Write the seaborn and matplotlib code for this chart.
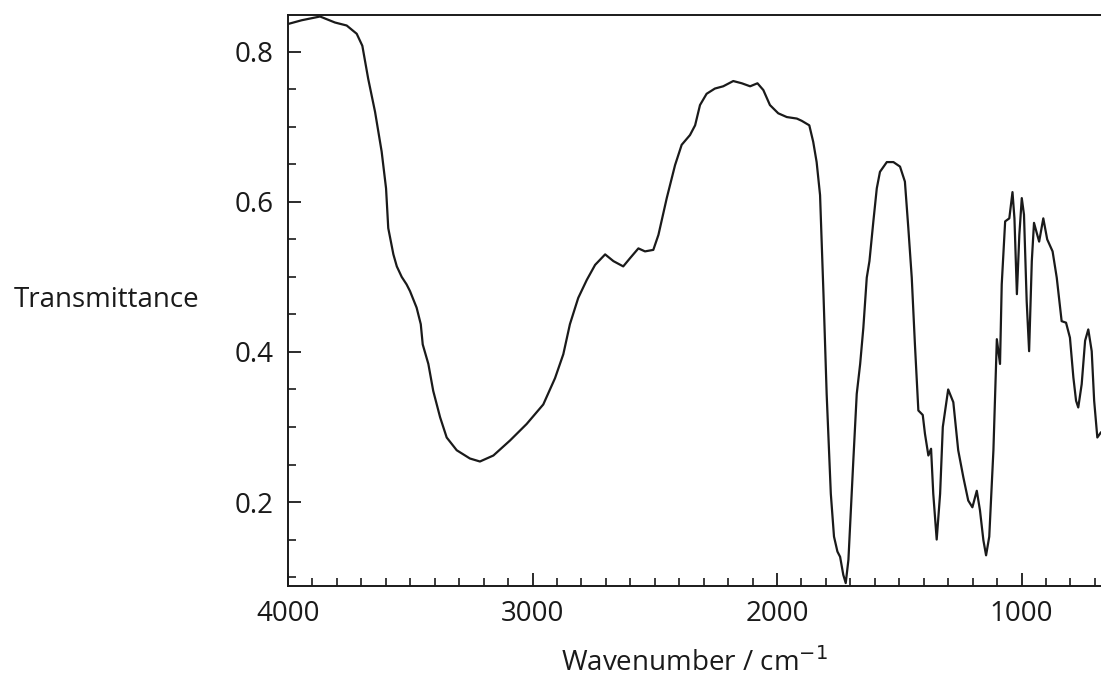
import numpy as np
import pandas as pd
import matplotlib
matplotlib.use("Agg")
import matplotlib.pyplot as plt
from matplotlib.ticker import MultipleLocator
import seaborn as sns

# IR spectrum values (wavenumber in cm^-1, transmittance)
wavenumber = [
    4000, 3944, 3869, 3808, 3760, 3719, 3696, 3672, 3644, 3617,
    3599, 3590, 3569, 3555, 3535, 3515, 3501, 3474, 3457, 3449,
    3426, 3406, 3378, 3351, 3310, 3256, 3215, 3160, 3092, 3024,
    2956, 2908, 2874, 2847, 2813, 2778, 2744, 2703, 2669, 2629,
    2601, 2567, 2540, 2506, 2485, 2451, 2417, 2390, 2356, 2335,
    2315, 2288, 2254, 2220, 2179, 2144, 2110, 2080, 2056, 2029,
    1995, 1960, 1919, 1899, 1868, 1852, 1838, 1824, 1810, 1797,
    1780, 1767, 1753, 1742, 1729, 1719, 1708, 1688, 1674, 1660,
    1647, 1633, 1622, 1606, 1592, 1579, 1551, 1524, 1497, 1477,
    1463, 1449, 1436, 1422, 1404, 1395, 1381, 1370, 1361, 1347,
    1333, 1322, 1300, 1279, 1259, 1238, 1218, 1201, 1183, 1170,
    1156, 1145, 1132, 1115, 1101, 1088, 1081, 1067, 1050, 1037,
    1029, 1019, 1009, 999, 990, 979, 969, 958, 949, 928,
    911, 895, 873, 856, 836, 818, 802, 788, 777, 768,
    754, 740, 727, 713, 703, 690, 675,
]
transmittance = [
    0.837, 0.842, 0.847, 0.839, 0.835, 0.824, 0.808, 0.764, 0.720, 0.667,
    0.618, 0.565, 0.530, 0.514, 0.500, 0.490, 0.481, 0.459, 0.437, 0.410,
    0.384, 0.348, 0.313, 0.286, 0.269, 0.258, 0.254, 0.262, 0.282, 0.304,
    0.330, 0.365, 0.397, 0.437, 0.472, 0.496, 0.516, 0.530, 0.521, 0.514,
    0.525, 0.538, 0.534, 0.536, 0.556, 0.605, 0.649, 0.676, 0.689, 0.702,
    0.729, 0.744, 0.751, 0.754, 0.761, 0.758, 0.754, 0.758, 0.749, 0.729,
    0.718, 0.713, 0.711, 0.708, 0.702, 0.680, 0.653, 0.609, 0.477, 0.344,
    0.211, 0.154, 0.134, 0.127, 0.103, 0.092, 0.123, 0.255, 0.344, 0.384,
    0.432, 0.499, 0.521, 0.574, 0.618, 0.640, 0.653, 0.653, 0.647, 0.627,
    0.565, 0.499, 0.410, 0.322, 0.316, 0.291, 0.262, 0.271, 0.211, 0.150,
    0.211, 0.300, 0.350, 0.333, 0.269, 0.233, 0.202, 0.193, 0.215, 0.189,
    0.149, 0.129, 0.154, 0.269, 0.417, 0.384, 0.490, 0.574, 0.578, 0.613,
    0.578, 0.477, 0.556, 0.605, 0.583, 0.468, 0.401, 0.521, 0.572, 0.547,
    0.578, 0.550, 0.534, 0.499, 0.441, 0.439, 0.419, 0.366, 0.335, 0.326,
    0.357, 0.415, 0.430, 0.401, 0.335, 0.286, 0.293,
]

df = pd.DataFrame({"wavenumber": wavenumber, "transmittance": transmittance})

sns.set_style("white")
plt.rcParams["font.family"] = ["Open Sans", "DejaVu Sans"]

fig = plt.figure(figsize=(11.01, 6.80), dpi=100)
ax = fig.add_axes([288 / 1101, 94.3 / 680, 1 - 288 / 1101, 570.7 / 680])

sns.lineplot(data=df, x="wavenumber", y="transmittance", ax=ax,
             color="#1a1a1a", linewidth=1.6, estimator=None, sort=False)

ax.set_xlim(4000, 675)
ax.set_ylim(0.0885, 0.849)

ax.xaxis.set_minor_locator(MultipleLocator(100))
ax.yaxis.set_minor_locator(MultipleLocator(0.05))
ax.set_xticks([4000, 3000, 2000, 1000])
ax.set_xticklabels(["4000", "3000", "2000", "1000"])
ax.set_yticks([0.2, 0.4, 0.6, 0.8])
ax.set_yticklabels(["0.2", "0.4", "0.6", "0.8"])

ax.tick_params(axis="both", which="both", bottom=True, left=True,
               top=False, right=False, direction="in", color="#1a1a1a")
ax.tick_params(axis="both", which="major", length=9.5, width=1.3,
               labelsize=20, labelcolor="#1a1a1a", pad=10)
ax.tick_params(axis="both", which="minor", length=6, width=1.2)

for side in ["left", "bottom", "top"]:
    ax.spines[side].set_visible(True)
    ax.spines[side].set_linewidth(1.4)
    ax.spines[side].set_color("#1a1a1a")
ax.spines["right"].set_visible(False)

ax.set_ylabel("Transmittance", rotation=0, fontsize=20, color="#1a1a1a",
              ha="center", va="center")
ax.yaxis.set_label_coords(-0.2226, 0.5)
ax.set_xlabel("Wavenumber / cm$^{-1}$", fontsize=20, color="#1a1a1a",
              ha="center", va="center")
ax.xaxis.set_label_coords(0.5, -0.135)

fig.savefig("out.png", dpi=100)
